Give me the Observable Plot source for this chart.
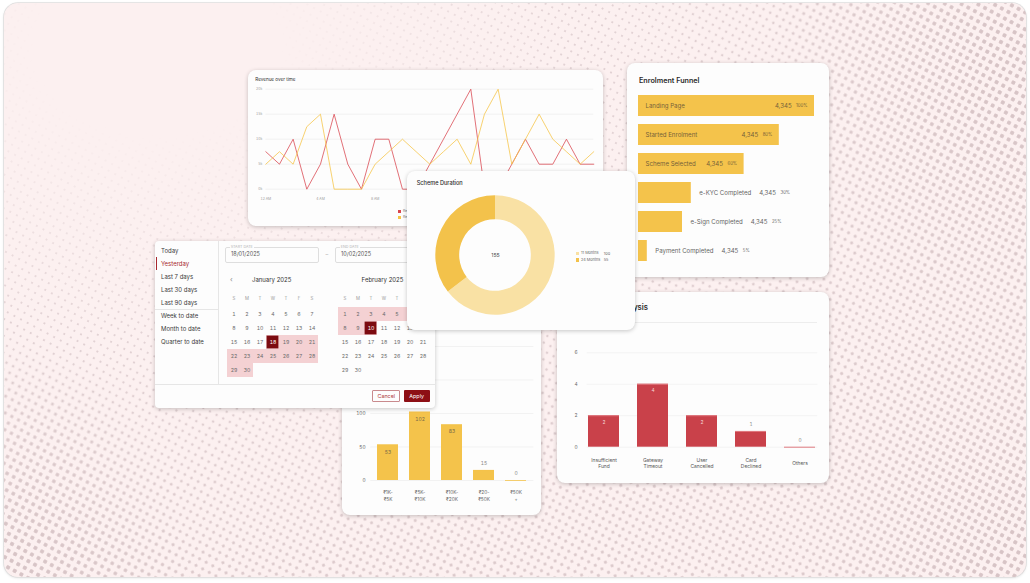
<!DOCTYPE html>
<html>
<head>
<meta charset="utf-8">
<script src="https://cdn.jsdelivr.net/npm/d3@7"></script>
<script src="https://cdn.jsdelivr.net/npm/@observablehq/plot@0.6"></script>
<style>
html,body{margin:0;padding:0;background:#fff;width:1030px;height:583px;overflow:hidden;font-family:Inter,"Noto Sans",sans-serif;}
#stage{position:absolute;left:0;top:0;width:1030px;height:583px;}
#frame{position:absolute;left:4px;top:3px;width:1022px;height:574px;border-radius:14px;background:#fcf0f0;overflow:hidden;box-shadow:0 0 0 0.8px #dedede,0 1px 3px rgba(0,0,0,0.12);}
.mask{position:absolute;left:0;top:0;width:1022px;height:574px;}
.dots{position:absolute;left:-500px;top:-700px;width:2000px;height:2000px;transform:rotate(28deg);background-size:7.5px 7.5px;}
.d1{background-image:radial-gradient(circle,#e2d2d4 0.7px,transparent 1.1px);}
.d2{background-image:radial-gradient(circle,#dccacc 1.3px,transparent 1.7px);}
.d3{background-image:radial-gradient(circle,#d7c4c6 1.9px,transparent 2.3px);}
.m1{-webkit-mask-image:radial-gradient(ellipse 40% 50% at 15% 8%,transparent 30%,#000 100%);mask-image:radial-gradient(ellipse 40% 50% at 15% 8%,transparent 30%,#000 100%);}
.m2{-webkit-mask-image:radial-gradient(ellipse 75% 85% at 22% 15%,transparent 55%,#000 100%);mask-image:radial-gradient(ellipse 75% 85% at 22% 15%,transparent 55%,#000 100%);}
.m3{-webkit-mask-image:radial-gradient(ellipse 25% 50% at 100% 10%,#000 15%,transparent 100%),radial-gradient(ellipse 18% 40% at 0% 100%,#000 10%,transparent 100%),radial-gradient(ellipse 22% 50% at 100% 100%,#000 15%,transparent 100%);mask-image:radial-gradient(ellipse 25% 50% at 100% 10%,#000 15%,transparent 100%),radial-gradient(ellipse 18% 40% at 0% 100%,#000 10%,transparent 100%),radial-gradient(ellipse 22% 50% at 100% 100%,#000 15%,transparent 100%);}
.card{position:absolute;background:#fdfdfd;border-radius:8px;box-shadow:0 1px 4px rgba(0,0,0,0.22);overflow:hidden;}
.card svg{position:absolute;overflow:visible;}
.abs{position:absolute;white-space:nowrap;line-height:1;}
.menuItem{position:absolute;left:6px;font-size:6px;color:#3a3a3a;line-height:13px;height:13px;}
</style>
</head>
<body>
<div id="stage">
  <div id="frame">
    <div class="mask m1"><div class="dots d1"></div></div>
    <div class="mask m2"><div class="dots d2"></div></div>
    <div class="mask m3"><div class="dots d3"></div></div>
  </div>
  <div class="card" id="revCard" style="left:248px;top:70px;width:355px;height:156px;z-index:1"></div>
  <div class="card" id="funnelCard" style="left:627px;top:63px;width:202px;height:214px;z-index:2"></div>
  <div class="card" id="amountCard" style="left:342px;top:320px;width:199px;height:195px;z-index:3"></div>
  <div class="card" id="failCard" style="left:557px;top:292px;width:272px;height:191px;z-index:4"></div>
  <div class="card" id="dpCard" style="left:155px;top:241px;width:280px;height:167px;z-index:5;border-radius:4px"></div>
  <div class="card" id="schemeCard" style="left:407px;top:171px;width:228px;height:159px;z-index:6"></div>
</div>
<script>
// ---------------- DATA ----------------
const revenueHours = [0,1,2,3,4,5,6,7,8,9,10,11,12,13,14,15,16,17,18,19,20,21,22,23,24];
const revenueSeries = ["Revenue", "Refunds"];
const revenueColors = ["#d9454d", "#f6c445"];
const revenueCurrent = [7.5,5,10,0,5,15,5,0,10,10,0,0,5,10,15,20,0,0,5,10,5,5,10,5,5];
const revenuePrevious = [5,7.5,5,12.5,15,0,0,0,5,7.5,10,7.5,5,7.5,10,5,15,20,5,10,15,10,7.5,5,7.5];
const revenueYTicks = [0,5,10,15,20];
const revenueXTicks = [0,4,8,12,16,20];
const revenueXLabels = ["12 AM","4 AM","8 AM","12 PM","4 PM","8 PM"];

const funnelStages = ["Landing Page","Started Enrolment","Scheme Selected","e-KYC Completed","e-Sign Completed","Payment Completed"];
const funnelUsers = [4345,4345,4345,4345,4345,4345];
const funnelShares = [100,80,60,30,25,5];

const durationLabels = ["11 Months","24 Months"];
const durationCounts = [100,55];
const durationColors = ["#f9e1a4","#f3c24b"];

const presetRanges = ["Today","Yesterday","Last 7 days","Last 30 days","Last 90 days","Week to date","Month to date","Quarter to date"];
const activePreset = "Yesterday";
const weekdayLetters = ["S","M","T","W","T","F","S"];
const monthDays = [1,2,3,4,5,6,7,8,9,10,11,12,13,14,15,16,17,18,19,20,21,22,23,24,25,26,27,28,29,30];
const calendarMonths = ["January 2025","February 2025"];
const rangeStartDay = 18;   // in January
const rangeEndDay = 10;     // in February
const startDateText = "18/01/2025";
const endDateText = "10/02/2025";

const amountBands = ["₹1K-\n₹5K","₹5K-\n₹10K","₹10K-\n₹20K","₹20-\n₹50K","₹50K\n+"];
const amountCounts = [53,102,83,15,0];
const amountTicks = [0,50,100,150,200];

const failureReasons = ["Insufficient\nFund","Gateway\nTimeout","User\nCancelled","Card\nDeclined","Others"];
const failureCounts = [2,4,2,1,0];
const failureTicks = [0,2,4,6];

// ---------------- HELPERS ----------------
const FONT = "Inter, 'Noto Sans', sans-serif";
const baseStyle = {fontFamily: FONT, background: "transparent", overflow: "visible"};
const ctx = document.createElement("canvas").getContext("2d");
function textWidth(str, size, weight = 400) { ctx.font = `${weight} ${size}px Inter`; return ctx.measureText(str).width; }
function el(parent, html, style) {
  const d = document.createElement("div");
  d.className = "abs";
  d.innerHTML = html;
  Object.assign(d.style, style);
  parent.appendChild(d);
  return d;
}
function place(parent, svg, left, top) {
  svg.style.left = left + "px"; svg.style.top = top + "px";
  parent.appendChild(svg);
}

// ---------------- REVENUE OVER TIME ----------------
{
  const card = document.getElementById("revCard");
  el(card, "Revenue over time", {left: "7.3px", top: "8px", fontSize: "4.6px", color: "#333"});
  const rows = revenueSeries.flatMap((s, si) => revenueHours.map((h, i) => ({series: s, hour: h, value: [revenueCurrent, revenuePrevious][si][i]})));
  const chart = Plot.plot({
    width: 355, height: 156,
    marginLeft: 17.3, marginRight: 9.7, marginTop: 18.7, marginBottom: 37.3,
    style: baseStyle,
    x: {domain: [0, 24], axis: null},
    y: {domain: [0, 20], axis: null},
    color: {domain: revenueSeries, range: revenueColors},
    marks: [
      Plot.gridY(revenueYTicks, {stroke: "#eeeeee", strokeOpacity: 1, strokeWidth: 0.7}),
      Plot.axisY(revenueYTicks, {label: null, tickSize: 0, tickPadding: 3.5, tickFormat: d => d + "k", fontSize: 3.4, fill: "#9a9a9a"}),
      Plot.axisX(revenueXTicks, {label: null, tickSize: 0, tickPadding: 8.5, tickFormat: d => revenueXLabels[revenueXTicks.indexOf(d)], fontSize: 3.4, fill: "#9a9a9a"}),
      Plot.line(rows, {x: "hour", y: "value", stroke: "series", strokeWidth: 0.9, strokeOpacity: 0.85})
    ]
  });
  place(card, chart, 0, 0);
  revenueSeries.forEach((s, i) => {
    el(card, `<span style="display:inline-block;width:3px;height:3px;background:${revenueColors[i]};vertical-align:middle;margin-right:2px"></span><span style="vertical-align:middle">${s}</span>`,
      {left: "150px", top: (139.5 + i * 6) + "px", fontSize: "3.6px", color: "#777"});
  });
}

// ---------------- ENROLMENT FUNNEL ----------------
{
  const card = document.getElementById("funnelCard");
  el(card, "Enrolment Funnel", {left: "12px", top: "14.3px", fontSize: "7.2px", fontWeight: "600", color: "#2b2b2b"});
  const rows = funnelStages.map((stage, i) => ({stage, users: funnelUsers[i], share: funnelShares[i]}));
  const nameSize = 6.1, numSize = 6.1, pctSize = 4.3;
  const fmt = d3.format(",");
  const textMarks = rows.flatMap(r => {
    const num = fmt(r.users), pct = r.share + "%";
    const inside = r.share >= 50;
    const pctW = textWidth(pct, pctSize), numW = textWidth(num, numSize), nameW = textWidth(r.stage, nameSize);
    if (inside) {
      const fill = "#76623a";
      return [
        Plot.text([r], {x: 0, y: "stage", text: "stage", dx: 7, textAnchor: "start", fontSize: nameSize, fill}),
        Plot.text([r], {x: "share", y: "stage", text: () => pct, dx: -7, textAnchor: "end", fontSize: pctSize, fill}),
        Plot.text([r], {x: "share", y: "stage", text: () => num, dx: -7 - pctW - 4.5, textAnchor: "end", fontSize: numSize, fill})
      ];
    }
    const fill = "#666";
    const d0 = 8, d1 = d0 + nameW + 8, d2 = d1 + numW + 4.5;
    return [
      Plot.text([r], {x: "share", y: "stage", text: "stage", dx: d0, textAnchor: "start", fontSize: nameSize, fill}),
      Plot.text([r], {x: "share", y: "stage", text: () => num, dx: d1, textAnchor: "start", fontSize: numSize, fill}),
      Plot.text([r], {x: "share", y: "stage", text: () => pct, dx: d2, textAnchor: "start", fontSize: pctSize, fill})
    ];
  });
  const chart = Plot.plot({
    width: 202, height: 214,
    marginLeft: 11, marginRight: 15, marginTop: 25.5, marginBottom: 9.1,
    style: baseStyle,
    x: {domain: [0, 100], axis: null},
    y: {domain: funnelStages, paddingInner: 0.28, paddingOuter: 0.14, axis: null},
    marks: [
      Plot.barX(rows, {x: "share", y: "stage", fill: "#f4c34b"}),
      ...textMarks
    ]
  });
  place(card, chart, 0, 0);
}

// ---------------- SCHEME DURATION (donut) ----------------
{
  const card = document.getElementById("schemeCard");
  el(card, "Scheme Duration", {left: "9.7px", top: "10px", fontSize: "5.6px", color: "#2b2b2b", fontWeight: "500"});
  const rows = durationLabels.map((label, i) => ({label, count: durationCounts[i]}));
  const total = d3.sum(durationCounts);
  const color = Plot.scale({color: {domain: durationLabels, range: durationColors}});
  const donut = (index, scales, values, dims) => {
    const w = dims.width - dims.marginLeft - dims.marginRight;
    const h = dims.height - dims.marginTop - dims.marginBottom;
    const r = Math.min(w, h) / 2;
    const g = d3.create("svg:g").attr("transform", `translate(${dims.marginLeft + w / 2},${dims.marginTop + h / 2})`);
    const arcs = d3.pie().sort(null).value(d => d.count)(rows);
    const arc = d3.arc().innerRadius(r * 0.6).outerRadius(r);
    g.selectAll("path").data(arcs).join("path").attr("d", arc).attr("fill", d => color.apply(d.data.label));
    return g.node();
  };
  const chart = Plot.plot({
    width: 176, height: 159,
    marginLeft: 28, marginRight: 28, marginTop: 24.3, marginBottom: 15.3,
    style: baseStyle,
    marks: [
      donut,
      Plot.text([total], {frameAnchor: "middle", text: d => String(d), fontSize: 5.2, fill: "#444"})
    ]
  });
  place(card, chart, 0, 0);
  rows.forEach((d, i) => {
    el(card, `<span style="display:inline-block;width:3.4px;height:3.4px;background:${color.apply(d.label)};vertical-align:middle;margin-right:2px"></span><span style="vertical-align:middle">${d.label}</span>`,
      {left: "168.6px", top: (80.4 + i * 6.7) + "px", fontSize: "3.8px", color: "#666"});
    el(card, String(d.count), {left: "196.8px", top: (80.6 + i * 6.7) + "px", fontSize: "3.8px", color: "#666"});
  });
}

// ---------------- DATE PICKER ----------------
{
  const card = document.getElementById("dpCard");
  presetRanges.forEach((p, i) => {
    const d = el(card, p, {});
    d.className = "menuItem";
    d.style.top = (2.5 + i * 13) + "px";
    if (p === activePreset) d.style.color = "#a8282e";
  });
  const ai = presetRanges.indexOf(activePreset);
  el(card, "", {left: "0.6px", top: (2.5 + ai * 13 + 0.5) + "px", width: "1.4px", height: "12.5px", background: "#a8282e"});
  el(card, "", {left: "0px", top: "67.5px", width: "63px", height: "0.8px", background: "#e6e6e6"});
  el(card, "", {left: "63px", top: "0px", width: "0.8px", height: "142.7px", background: "#e6e6e6"});
  el(card, "", {left: "0px", top: "142.7px", width: "280px", height: "0.8px", background: "#e6e6e6"});

  [[startDateText, "START DATE", 69.7], [endDateText, "END DATE", 179.7]].forEach(([val, lab, x]) => {
    el(card, "", {left: x + "px", top: "6px", width: "94px", height: "16px", border: "0.8px solid #dedede", borderRadius: "2px", boxSizing: "border-box"});
    el(card, lab, {left: (x + 5) + "px", top: "4.2px", fontSize: "3.7px", color: "#b4b4b4", background: "#fdfdfd", padding: "0 1px"});
    el(card, val, {left: (x + 6.3) + "px", top: "11.2px", fontSize: "5.5px", color: "#555"});
  });
  el(card, "–", {left: "170.5px", top: "11px", fontSize: "5.5px", color: "#aaa"});

  el(card, "‹", {left: "75px", top: "34.5px", fontSize: "7px", color: "#888"});
  const monthLefts = [69.7, 180.5];
  calendarMonths.forEach((m, mi) => {
    const d = el(card, m, {top: "36px", fontSize: "6px", color: "#333", width: "94px", textAlign: "center"});
    d.style.left = monthLefts[mi] + "px";
  });

  function calendar(monthIndex) {
    const cells = monthDays.map(day => {
      const col = (day - 1) % 7, week = Math.floor((day - 1) / 7);
      let state = "none";
      if (monthIndex === 0 && day >= rangeStartDay) state = day === rangeStartDay ? "end" : "range";
      if (monthIndex === 1 && day <= rangeEndDay) state = day === rangeEndDay ? "end" : "range";
      return {day, col, week, state};
    });
    return Plot.plot({
      width: 94, height: 85.7,
      marginLeft: 0, marginRight: 0, marginTop: 14, marginBottom: 0,
      style: baseStyle,
      x: {domain: [0,1,2,3,4,5,6], padding: 0, axis: null},
      y: {domain: [0,1,2,3,4], padding: 0, axis: null},
      color: {type: "identity"},
      marks: [
        Plot.axisX({anchor: "top", label: null, tickSize: 0, tickPadding: 6.8, tickFormat: i => weekdayLetters[i], fontSize: 4.4, fill: "#9a9a9a"}),
        Plot.cell(cells.filter(d => d.state !== "none"), {x: "col", y: "week", fill: "#f4d1d3"}),
        Plot.cell(cells.filter(d => d.state === "end"), {x: "col", y: "week", fill: "#7c0b10", inset: 0.6}),
        Plot.text(cells, {x: "col", y: "week", text: "day", fontSize: 5.2, fill: d => d.state === "end" ? "#ffffff" : "#6a6a6a"})
      ]
    });
  }
  place(card, calendar(0), 69.7, 50.5);
  place(card, calendar(1), 180.5, 50.5);

  el(card, "Cancel", {left: "217.3px", top: "148.7px", width: "28px", height: "12.3px", boxSizing: "border-box", border: "0.8px solid #c98a8d", borderRadius: "1px", fontSize: "5.4px", color: "#b03a40", textAlign: "center", lineHeight: "11px"});
  el(card, "Apply", {left: "248.7px", top: "148.7px", width: "26px", height: "12.3px", background: "#8d0f15", borderRadius: "1px", fontSize: "5.4px", color: "#fff", textAlign: "center", lineHeight: "12.3px"});
}

// ---------------- TICKET SIZE BARS ----------------
{
  const card = document.getElementById("amountCard");
  const rows = amountBands.map((band, i) => ({band, count: amountCounts[i]}));
  const max = d3.max(amountTicks);
  const inside = d => d.count / max >= 0.25;
  const chart = Plot.plot({
    width: 199, height: 195,
    marginLeft: 28.3, marginRight: 7.7, marginTop: 26, marginBottom: 35,
    style: baseStyle,
    x: {domain: amountBands, paddingInner: 0.33, paddingOuter: 0.165, axis: null},
    y: {domain: [0, max], axis: null},
    marks: [
      Plot.gridY(amountTicks, {stroke: "#ececec", strokeOpacity: 1, strokeWidth: 0.7}),
      Plot.axisY(amountTicks, {label: null, tickSize: 0, tickPadding: 5.3, fontSize: 4.8, fill: "#666"}),
      Plot.axisX({label: null, tickSize: 0, tickPadding: 15, lineAnchor: "middle", lineHeight: 1.5, fontSize: 4.8, fill: "#666"}),
      Plot.barY(rows, {x: "band", y: "count", fill: "#f4c34b"}),
      Plot.tickY(rows, {x: "band", y: "count", stroke: "#f4c34b", strokeWidth: 1, strokeOpacity: 0.8}),
      Plot.text(rows.filter(inside), {x: "band", y: "count", text: "count", dy: 7, fontSize: 5, fill: "#7a6a48"}),
      Plot.text(rows.filter(d => !inside(d)), {x: "band", y: "count", text: "count", dy: -7, fontSize: 5, fill: "#8a8a8a"})
    ]
  });
  place(card, chart, 0, 0);
}

// ---------------- FAILURE ANALYSIS ----------------
{
  const card = document.getElementById("failCard");
  el(card, "Failure Analysis", {left: "33px", top: "12.3px", fontSize: "7.6px", fontWeight: "600", color: "#2b2b2b"});
  el(card, "", {left: "13px", top: "29.7px", width: "247px", height: "0.7px", background: "#ededed"});
  const rows = failureReasons.map((reason, i) => ({reason, count: failureCounts[i]}));
  const max = d3.max(failureTicks);
  const inside = d => d.count / max >= 0.25;
  const chart = Plot.plot({
    width: 272, height: 191,
    marginLeft: 29.7, marginRight: 11.7, marginTop: 60.3, marginBottom: 36.3,
    style: baseStyle,
    x: {domain: failureReasons, paddingInner: 0.36, paddingOuter: 0, axis: null},
    y: {domain: [0, max], axis: null},
    marks: [
      Plot.gridY(failureTicks, {stroke: "#efefef", strokeOpacity: 1, strokeWidth: 0.7}),
      Plot.axisY(failureTicks, {label: null, tickSize: 0, tickPadding: 9.5, fontSize: 4.8, fill: "#666"}),
      Plot.axisX({label: null, tickSize: 0, tickPadding: 15.6, lineAnchor: "middle", lineHeight: 1.3, fontSize: 4.9, fill: "#555"}),
      Plot.barY(rows, {x: "reason", y: "count", fill: "#c9414a"}),
      Plot.tickY(rows, {x: "reason", y: "count", stroke: "#e07a80", strokeWidth: 1}),
      Plot.text(rows.filter(inside), {x: "reason", y: "count", text: "count", dy: 6.5, fontSize: 4.8, fill: "#f6dadb"}),
      Plot.text(rows.filter(d => !inside(d)), {x: "reason", y: "count", text: "count", dy: -7, fontSize: 4.8, fill: "#888"})
    ]
  });
  place(card, chart, 0, 0);
}
</script>
</body>
</html>
